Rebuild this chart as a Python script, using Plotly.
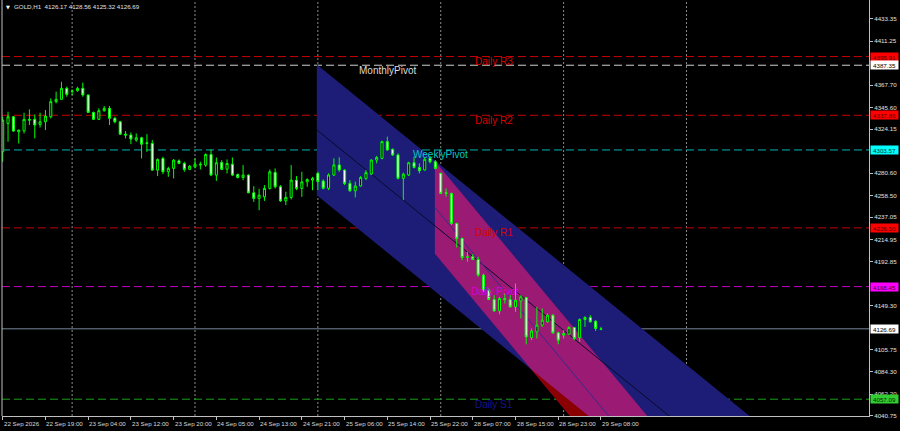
import plotly.graph_objects as go

# ---------------- data ----------------
bar_index = list(range(113))
opens = [4301.7, 4329.8, 4336.4, 4321.6, 4322.5, 4333.8, 4333.8, 4328.8, 4331.4, 4336.4,
         4351.3, 4353.6, 4364.5, 4361.8, 4362.1, 4364.5, 4357.9, 4340.7, 4333.8, 4342.4,
         4344.7, 4334.8, 4331.4, 4319.2, 4318.3, 4313.3, 4315.6, 4310.6, 4310.0, 4283.6,
         4295.2, 4282.0, 4285.3, 4292.8, 4290.2, 4284.3, 4286.9, 4289.5, 4288.6, 4299.1,
         4278.7, 4291.2, 4284.6, 4289.5, 4279.3, 4276.3, 4278.7, 4261.2, 4255.6, 4257.2,
         4265.5, 4281.3, 4267.1, 4253.2, 4256.6, 4273.7, 4265.5, 4272.0, 4273.7, 4280.4,
         4272.8, 4265.6, 4278.8, 4288.7, 4283.7, 4270.5, 4263.2, 4267.9, 4275.5, 4279.7,
         4293.6, 4295.3, 4311.8, 4304.2, 4298.6, 4275.5, 4278.8, 4290.9, 4286.3, 4283.7,
         4295.3, 4291.9, 4280.4, 4261.3, 4260.6, 4230.9, 4216.1, 4197.2, 4197.9, 4195.3,
         4179.8, 4164.9, 4155.7, 4144.4, 4156.7, 4155.7, 4148.4, 4154.3, 4157.6, 4118.0,
         4123.7, 4130.3, 4133.6, 4140.2, 4122.7, 4120.4, 4121.4, 4128.0, 4118.0, 4135.9,
         4137.9, 4134.2, 4126.17]
highs = [4336.4, 4341.4, 4337.1, 4323.5, 4340.4, 4343.7, 4338.7, 4340.4, 4343.0, 4354.6,
         4361.2, 4371.0, 4366.1, 4363.5, 4366.1, 4370.1, 4358.5, 4341.4, 4344.7, 4347.0,
         4347.0, 4336.4, 4332.4, 4322.2, 4320.9, 4319.9, 4316.6, 4319.2, 4313.3, 4295.2,
         4296.8, 4286.9, 4294.5, 4294.2, 4291.9, 4288.6, 4295.2, 4291.9, 4300.1, 4304.1,
         4296.1, 4293.5, 4294.2, 4296.1, 4280.3, 4288.6, 4279.6, 4267.8, 4265.1, 4268.8,
         4284.3, 4285.3, 4268.8, 4262.2, 4288.6, 4277.7, 4282.0, 4275.4, 4277.0, 4282.0,
         4274.5, 4280.4, 4295.3, 4296.2, 4284.4, 4273.8, 4272.2, 4277.8, 4283.7, 4294.3,
         4297.6, 4312.7, 4316.7, 4305.1, 4300.2, 4281.1, 4291.9, 4296.9, 4290.3, 4296.2,
         4297.6, 4293.6, 4281.1, 4265.5, 4261.3, 4231.6, 4217.0, 4202.9, 4200.5, 4197.9,
         4181.4, 4166.6, 4160.0, 4158.3, 4161.6, 4160.0, 4171.5, 4160.0, 4158.3, 4127.0,
         4148.4, 4146.8, 4141.8, 4141.1, 4123.7, 4125.3, 4129.3, 4128.6, 4136.9, 4139.2,
         4140.2, 4135.2, 4128.56]
lows = [4291.9, 4311.7, 4321.6, 4310.0, 4319.9, 4328.2, 4315.0, 4325.8, 4323.2, 4334.8,
        4349.6, 4352.9, 4356.2, 4357.9, 4361.2, 4356.2, 4340.4, 4333.4, 4333.1, 4341.4,
        4328.2, 4329.8, 4318.3, 4315.0, 4309.3, 4311.7, 4295.2, 4301.7, 4283.3, 4277.7,
        4279.6, 4277.0, 4275.4, 4289.5, 4282.0, 4283.6, 4285.3, 4284.3, 4286.9, 4277.7,
        4273.0, 4283.6, 4280.3, 4277.7, 4275.4, 4273.7, 4260.8, 4252.2, 4244.0, 4253.2,
        4264.5, 4265.5, 4252.2, 4249.0, 4254.6, 4263.8, 4257.2, 4267.1, 4263.8, 4263.9,
        4264.6, 4263.9, 4277.8, 4282.0, 4268.9, 4262.3, 4256.6, 4267.2, 4273.8, 4278.8,
        4290.3, 4294.3, 4302.8, 4297.6, 4274.5, 4254.0, 4277.8, 4285.3, 4280.4, 4283.0,
        4290.3, 4284.4, 4259.9, 4257.3, 4229.3, 4207.1, 4194.6, 4193.0, 4194.6, 4178.1,
        4163.3, 4155.0, 4143.5, 4141.1, 4151.7, 4147.7, 4143.5, 4136.9, 4111.4, 4115.4,
        4117.1, 4128.6, 4132.6, 4122.0, 4111.4, 4117.1, 4120.4, 4115.4, 4113.8, 4128.6,
        4132.9, 4124.6, 4125.32]
closes = [4333.1, 4336.4, 4322.2, 4323.2, 4333.8, 4333.1, 4328.2, 4331.4, 4337.1, 4351.3,
          4353.6, 4364.5, 4358.5, 4361.5, 4364.5, 4357.9, 4340.7, 4333.8, 4342.4, 4344.7,
          4334.8, 4331.4, 4319.2, 4318.3, 4314.3, 4315.6, 4309.3, 4310.0, 4283.6, 4294.2,
          4282.0, 4285.3, 4293.5, 4290.2, 4284.3, 4287.6, 4289.5, 4288.9, 4299.1, 4278.7,
          4290.9, 4284.3, 4290.2, 4278.7, 4276.3, 4278.7, 4261.2, 4255.6, 4258.9, 4265.5,
          4282.0, 4267.1, 4253.2, 4256.6, 4273.7, 4265.5, 4272.0, 4274.4, 4275.4, 4272.2,
          4265.6, 4278.8, 4288.7, 4283.7, 4270.5, 4263.2, 4267.9, 4276.4, 4281.1, 4293.6,
          4296.2, 4311.8, 4303.5, 4298.6, 4275.5, 4279.7, 4290.9, 4286.3, 4283.0, 4294.3,
          4291.9, 4285.3, 4260.6, 4260.6, 4230.9, 4216.1, 4197.2, 4197.9, 4195.3, 4179.8,
          4164.9, 4155.7, 4144.4, 4156.7, 4155.7, 4148.4, 4155.0, 4158.3, 4118.7, 4124.6,
          4130.3, 4135.2, 4140.2, 4122.7, 4115.4, 4122.0, 4128.0, 4117.1, 4135.9, 4137.9,
          4133.6, 4127.0, 4126.69]

symbol = "GOLD,H1"

tick_bars = [0, 8, 16, 24, 32, 40, 48, 56, 64, 72, 80, 88, 96, 104, 112]
tick_labels = ["22 Sep 2026", "22 Sep 19:00", "23 Sep 04:00", "23 Sep 12:00", "23 Sep 20:00",
               "24 Sep 05:00", "24 Sep 13:00", "24 Sep 21:00", "25 Sep 06:00", "25 Sep 14:00",
               "25 Sep 22:00", "28 Sep 07:00", "28 Sep 15:00", "28 Sep 23:00", "29 Sep 08:00"]
day_grid_bars = [13, 36, 59, 82, 105, 128]
price_ticks = [4433.35, 4411.25, 4367.70, 4345.60, 4324.15, 4280.60, 4258.50, 4237.05,
               4214.95, 4192.85, 4149.30, 4105.75, 4084.30, 4062.20, 4040.75]

level_names = ["Daily R3", "MonthlyPivot", "Daily R2", "WeeklyPivot", "Daily R1", "Daily Pivot", "Daily S1"]
level_values = [4395.91, 4387.35, 4337.86, 4303.57, 4226.50, 4168.45, 4057.09]
level_label_bars = [92, 72, 92, 82, 92, 92, 92]

# regression channels: start bar, upper & lower price at start, slope (price per bar)
channel_start = [58.8, 80.9]
channel_upper = [4388.0, 4292.6]
channel_lower = [4258.8, 4201.0]
channel_slope = [-4.29, -6.34]

# ---------------- styles ----------------
level_line_colors = ["#c80000", "#d0d0d0", "#c80000", "#00b4b4", "#c80000", "#c000c0", "#1aa01a"]
level_text_colors = ["#dc0000", "#dcdcdc", "#dc0000", "#00c8c8", "#dc0000", "#dc00dc", "#14148c"]
level_box_colors = ["#ff0000", "#ffffff", "#ff0000", "#00ffff", "#ff0000", "#ff00ff", "#32cd32"]
level_box_text = ["#500000", "#000000", "#500000", "#003030", "#500000", "#400040", "#002800"]
BLUE, PINK, RED = "#1d1d78", "#9a1a74", "#8b0000"
FONT = "Liberation Sans"
SMALL = 6.2

fig = go.Figure()
fig.add_trace(go.Candlestick(
    x=bar_index, open=opens, high=highs, low=lows, close=closes,
    increasing=dict(line=dict(color="#00ff00", width=1), fillcolor="#000000"),
    decreasing=dict(line=dict(color="#00ff00", width=1), fillcolor="#ffffff"),
    whiskerwidth=0, hoverinfo="skip", showlegend=False))

shapes = []


def channel_poly(i, extent=200):
    s, u, l, k = channel_start[i], channel_upper[i], channel_lower[i], channel_slope[i]
    e = s + extent
    return [(s, u), (e, u + k * extent), (e, l + k * extent), (s, l)]


def to_path(poly):
    return "M " + " L ".join(f"{x},{y}" for x, y in poly) + " Z"


def clip(poly, f):
    out = []
    n = len(poly)
    for i in range(n):
        p, q = poly[i], poly[(i + 1) % n]
        fp, fq = f(p), f(q)
        if fp >= 0:
            out.append(p)
        if (fp >= 0) != (fq >= 0):
            t = fp / (fp - fq)
            out.append((p[0] + t * (q[0] - p[0]), p[1] + t * (q[1] - p[1])))
    return out


blue_poly = channel_poly(0)
pink_poly = channel_poly(1)
below_blue = lambda p: (channel_lower[0] + channel_slope[0] * (p[0] - channel_start[0])) - p[1]
red_poly = clip(pink_poly, below_blue)

for poly, col in [(blue_poly, BLUE), (pink_poly, PINK), (red_poly, RED)]:
    shapes.append(dict(type="path", xref="x", yref="y", path=to_path(poly),
                       fillcolor=col, line=dict(width=0), layer="below"))

for i, col in enumerate(["#0a0a2a", "#3a2a8a"]):
    s = channel_start[i]
    mid = (channel_upper[i] + channel_lower[i]) / 2
    e = s + 200
    shapes.append(dict(type="line", xref="x", yref="y", x0=s, y0=mid, x1=e,
                       y1=mid + channel_slope[i] * 200, line=dict(color=col, width=1), layer="below"))

for b in day_grid_bars:
    shapes.append(dict(type="line", xref="x", yref="y domain", x0=b, x1=b, y0=0, y1=1,
                       line=dict(color="#8c8c8c", width=1, dash="2px,2px"), layer="below"))

for v, col in zip(level_values, level_line_colors):
    shapes.append(dict(type="line", xref="x domain", yref="y", x0=0, x1=1, y0=v, y1=v,
                       line=dict(color=col, width=1, dash="8px,4px"), layer="below"))

last = closes[-1]
shapes.append(dict(type="line", xref="x domain", yref="y", x0=0, x1=1, y0=last, y1=last,
                   line=dict(color="#778899", width=1), layer="below"))
shapes.append(dict(type="line", xref="x domain", yref="y domain", x0=0, x1=0, y0=0, y1=1,
                   line=dict(color="#c0c0c0", width=1), layer="above"))

annotations = []
for name, v, b, col in zip(level_names, level_values, level_label_bars, level_text_colors):
    annotations.append(dict(x=b, y=v, xref="x", yref="y", text=name, showarrow=False,
                            xanchor="center", yanchor="middle", yshift=-5,
                            font=dict(family=FONT, size=10, color=col)))

for v, bg, tc in list(zip(level_values, level_box_colors, level_box_text)) + [(last, "#ffffff", "#000000")]:
    annotations.append(dict(x=1, y=v, xref="paper", yref="y", text=f"{v:.2f}", showarrow=False,
                            xanchor="left", yanchor="middle", xshift=1, width=27, height=8,
                            borderpad=0, bgcolor=bg, align="center",
                            font=dict(family=FONT, size=SMALL, color=tc)))

for b, t in zip(tick_bars, tick_labels):
    annotations.append(dict(x=b, y=0, xref="x", yref="paper", text=t, showarrow=False,
                            xanchor="left", yanchor="top", yshift=-2, xshift=-1,
                            font=dict(family=FONT, size=SMALL, color="#d8d8d8")))

title = f"{symbol}  {opens[-1]:.2f} {highs[-1]:.2f} {lows[-1]:.2f} {closes[-1]:.2f}"
annotations.append(dict(x=0, y=1, xref="paper", yref="paper", text=title, showarrow=False,
                        xanchor="left", yanchor="top", xshift=10, yshift=-1,
                        font=dict(family=FONT, size=SMALL, color="#e0e0e0")))
annotations.append(dict(x=0, y=1, xref="paper", yref="paper", text="▼", showarrow=False,
                        xanchor="left", yanchor="top", xshift=2, yshift=-2,
                        font=dict(family="DejaVu Sans", size=5, color="#ffffff")))

fig.update_layout(
    width=900, height=431,
    margin=dict(l=2, r=31, t=0, b=15),
    paper_bgcolor="#000000", plot_bgcolor="#000000",
    showlegend=False, boxgap=0.45,
    shapes=shapes, annotations=annotations,
    xaxis=dict(range=[-0.13, 162.17], showgrid=False, zeroline=False,
               showline=True, linecolor="#c0c0c0", linewidth=1,
               ticks="outside", ticklen=3, tickcolor="#c0c0c0",
               tickvals=tick_bars, showticklabels=False,
               rangeslider=dict(visible=False)),
    yaxis=dict(side="right", range=[4040.48, 4451.84], showgrid=False, zeroline=False,
               showline=True, linecolor="#c0c0c0", linewidth=1,
               ticks="outside", ticklen=3, tickcolor="#c0c0c0",
               tickvals=price_ticks, ticktext=[f"{v:.2f}" for v in price_ticks],
               tickfont=dict(family=FONT, size=SMALL, color="#e0e0e0")),
)

fig.write_html("out.html", config={"displayModeBar": False},
               post_script="document.body.style.margin='0';document.body.style.background='#000';")
